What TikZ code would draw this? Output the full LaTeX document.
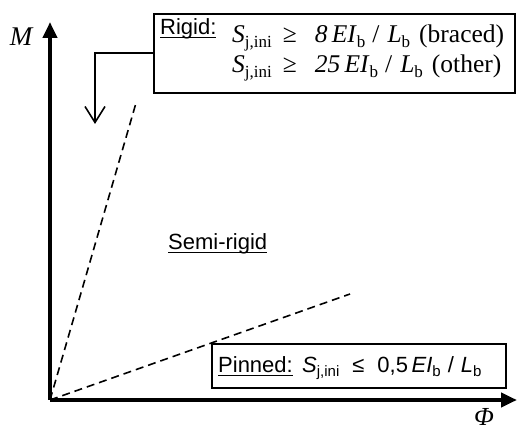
\documentclass[tikz,border=0pt]{standalone}
\usepackage{fontspec}
\setmainfont{Liberation Serif}
\newfontfamily\arialf{Liberation Sans}
\usetikzlibrary{arrows.meta}
\newcommand\myul[1]{\setbox0\hbox{#1}\rlap{\rule[-3.5pt]{\wd0}{1.8pt}}\box0}
\newcommand\tsub[1]{\raisebox{-4.5pt}{\fontsize{17pt}{17pt}\selectfont #1}}
\newcommand\ssub[1]{\raisebox{-4pt}{\fontsize{15pt}{15pt}\selectfont #1}}
\tikzset{
  axis/.style={line width=4pt,-{Triangle[length=16pt,width=14pt]}},
  dashline/.style={line width=1.6pt,dash pattern=on 8pt off 5pt},
  boxnode/.style={draw,line width=1.6pt,rectangle,inner sep=0pt,anchor=north west},
  sanslbl/.style={font=\arialf\fontsize{22pt}{24pt}\selectfont,inner sep=0pt,anchor=base west},
  seriflbl/.style={font=\fontsize{25.5pt}{28pt}\selectfont,inner sep=0pt,anchor=base west},
  pointer/.style={line width=1.6pt,-{Straight Barb[length=16pt,width=20pt,line width=1.6pt]}}
}
\begin{document}
\begin{tikzpicture}[x=1pt,y=-1pt]
\useasboundingbox (0,0) rectangle (517,430);
\coordinate (O) at (50,400);
\coordinate (ytip) at (50,22);
\coordinate (xtip) at (517,400);
\coordinate (rigidend) at (136,103);
\coordinate (pinnedend) at (350,294);
\coordinate (rtip) at (95,124);
% dashed lines
\draw[dashline] (O) -- (rigidend);
\draw[dashline] (O) -- (pinnedend);
% axes
\draw[axis] (O) -- (ytip);
\draw[axis] (O) -- (xtip);
\node[font=\fontsize{27pt}{27pt}\selectfont\itshape,inner sep=0pt] (Mlbl) at (21,37) {M};
\node[font=\fontsize{26pt}{26pt}\selectfont\itshape,inner sep=0pt] (Philbl) at (484,417) {Φ};
% rigid box
\node[boxnode,minimum width=361pt,minimum height=79pt] (rigidbox) at (153,13) {};
\node[sanslbl] (rigidlbl) at (160,35) {\myul{Rigid:}};
\node[seriflbl] (rigid1) at (232,43) {\textit{S}\tsub{j,ini}\hspace{11pt}≥\hspace{18pt}\textit{8\,EI}\tsub{b}\hspace{7pt}/\hspace{8pt}\textit{L}\tsub{b}\hspace{9pt}(braced)};
\node[seriflbl] (rigid2) at (232,73) {\textit{S}\tsub{j,ini}\hspace{11pt}≥\hspace{18pt}\textit{25\,EI}\tsub{b}\hspace{7pt}/\hspace{8pt}\textit{L}\tsub{b}\hspace{9pt}(other)};
\draw[pointer] (rigidbox.west) -| (rtip);
% semi-rigid
\node[sanslbl] (semilbl) at (168,250) {\myul{Semi-rigid}};
% pinned box
\node[boxnode,minimum width=294pt,minimum height=44pt] (pinnedbox) at (211,343) {};
\node[sanslbl] (pinnedlbl) at (218,373) {\myul{Pinned:}};
\node[sanslbl] (pinnedf) at (302,373) {\textit{S}\ssub{j,ini}\hspace{13pt}≤\hspace{13pt}0,5\,\textit{EI}\ssub{b}\hspace{7pt}/\hspace{7pt}\textit{L}\ssub{b}};
\end{tikzpicture}
\end{document}
